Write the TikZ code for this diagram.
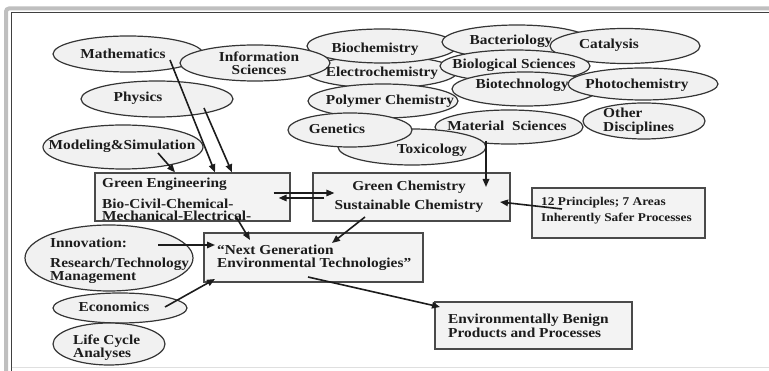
\documentclass[tikz,border=0pt]{standalone}
\usepackage{fontspec}
\newfontfamily\diafont{Liberation Serif}[FakeStretch=1.12]
\usetikzlibrary{shapes.geometric,arrows.meta}
\definecolor{ringc}{HTML}{353535}
\definecolor{discfill}{HTML}{F1F1F1}
\definecolor{boxc}{HTML}{4A4A4A}
\definecolor{boxfill}{HTML}{F3F3F3}
\definecolor{inkc}{HTML}{1C1C1C}
\begin{document}
\begin{tikzpicture}[x=1pt,y=-1pt,
  disc/.style={ellipse, draw=ringc, fill=discfill, line width=1.2pt, inner sep=0pt},
  panel/.style={rectangle, draw=boxc, fill=boxfill, line width=1.3pt, inner sep=0pt},
  lbl/.style={font=\diafont\bfseries\fontsize{13.7}{12.5}\selectfont, text=inkc, inner sep=0pt},
  small/.style={font=\diafont\bfseries\fontsize{11.9}{13}\selectfont, text=inkc, inner sep=0pt},
  link/.style={draw=inkc, line width=1.6pt, -{Triangle[length=8pt,width=6.5pt]}}]
\useasboundingbox (0,0) rectangle (769,371);

% page frame
\draw[gray!50, line width=4pt, rounded corners=3pt] (6,371) -- (6,8.5) -- (769,8.5);
\draw[black!75, line width=0.9pt] (11.5,371) -- (11.5,12) -- (769,12);
\draw[gray!25, line width=0.8pt] (11.5,367) -- (769,367);

% discipline ellipses (back to front)
\node[disc, minimum width=150pt, minimum height=36pt] (math) at (128,54) {};
\node[disc, minimum width=152pt, minimum height=36pt] (phys) at (157,99) {};
\node[disc, minimum width=160pt, minimum height=44pt] (model) at (123,147) {};
\node[disc, minimum width=150pt, minimum height=32pt] (electro) at (382,72) {};
\node[disc, minimum width=150pt, minimum height=34pt] (biochem) at (382,46) {};
\node[disc, minimum width=150pt, minimum height=36pt] (info) at (255,63) {};
\node[disc, minimum width=150pt, minimum height=34pt] (polymer) at (383,101) {};
\node[disc, minimum width=150pt, minimum height=34pt] (bact) at (517,42) {};
\node[disc, minimum width=150pt, minimum height=35pt] (catal) at (625,46) {};
\node[disc, minimum width=150pt, minimum height=32pt] (biosci) at (515,66) {};
\node[disc, minimum width=146pt, minimum height=34pt] (biotech) at (525,89) {};
\node[disc, minimum width=150pt, minimum height=32pt] (photo) at (643,84) {};
\node[disc, minimum width=148pt, minimum height=34pt] (material) at (509,127) {};
\node[disc, minimum width=122pt, minimum height=36pt] (other) at (644,121) {};
\node[disc, minimum width=148pt, minimum height=36pt] (toxic) at (412,147) {};
\node[disc, minimum width=124pt, minimum height=34pt] (genet) at (350,130) {};
\node[disc, minimum width=168pt, minimum height=66pt] (innov) at (109,258) {};
\node[disc, minimum width=134pt, minimum height=30pt] (econ) at (120,308) {};
\node[disc, minimum width=112pt, minimum height=42pt] (life) at (109,344) {};

% ellipse labels
\node[lbl] (tmath) at (123,54) {Mathematics};
\node[lbl, anchor=north, align=center] (tinfo) at (259,52) {Information\\Sciences};
\node[lbl] (tphys) at (138,98) {Physics};
\node[lbl] (tmodel) at (122,146) {Modeling\&Simulation};
\node[lbl] (tbiochem) at (375,49) {Biochemistry};
\node[lbl] (telectro) at (382,73) {Electrochemistry};
\node[lbl] (tpolymer) at (390,101) {Polymer Chemistry};
\node[lbl] (tgenet) at (337,129) {Genetics};
\node[lbl] (ttoxic) at (432,150) {Toxicology};
\node[lbl] (tbact) at (511,41) {Bacteriology};
\node[lbl] (tbiosci) at (514,65) {Biological Sciences};
\node[lbl] (tbiotech) at (522,85) {Biotechnology};
\node[lbl] (tmaterial) at (507,126) {Material\ \ Sciences};
\node[lbl] (tcatal) at (609,45) {Catalysis};
\node[lbl] (tphoto) at (637,85) {Photochemistry};
\node[lbl, anchor=north west, align=left] (tother) at (603,108) {Other\\[1.5pt]Disciplines};
\node[lbl, anchor=north west, align=left] (tinnov) at (50,238) {Innovation:\\[7.5pt]Research/Technology\\Management};
\node[lbl] (tecon) at (114,307) {Economics};
\node[lbl, anchor=north west, align=left] (tlife) at (73,335) {Life Cycle\\Analyses};

% boxes
\node[panel, minimum width=195pt, minimum height=48pt] (geng) at (192.5,197) {};
\node[panel, minimum width=197pt, minimum height=48pt] (gchem) at (411.5,197) {};
\node[panel, minimum width=173pt, minimum height=50pt] (princ) at (618.5,213) {};
\node[panel, minimum width=219pt, minimum height=49pt] (nextg) at (313.5,257.5) {};
\node[panel, minimum width=197pt, minimum height=47pt] (envb) at (533.5,325.5) {};

\node[lbl, anchor=north west, align=left] (tgeng) at (102,177.5) {Green Engineering\\[7.5pt]Bio-Civil-Chemical-\\Mechanical-Electrical-};
\node[lbl, anchor=north, align=center] (tgchem) at (409,181) {Green Chemistry\\[6.5pt]Sustainable Chemistry};
\node[small, anchor=north west, align=left] (tprinc) at (541,197.5) {12 Principles; 7 Areas\\[3pt]Inherently Safer Processes};
\node[lbl, anchor=north west, align=left] (tnextg) at (217,245) {“Next Generation\\Environmental Technologies”};
\node[lbl, anchor=north west, align=left] (tenvb) at (448,314) {Environmentally Benign\\Products and Processes};

% connectors
\draw[link] ([xshift=42pt,yshift=-6pt]math.center) -- ([xshift=22.5pt]geng.north);
\draw[link] ([xshift=47pt,yshift=-9pt]phys.center) -- ([xshift=39.5pt]geng.north);
\draw[link] ([xshift=35pt,yshift=-6pt]model.center) -- ([xshift=-17.5pt]geng.north);
\draw[link] ([xshift=-17pt,yshift=4pt]geng.east) -- ([xshift=22pt,yshift=4pt]gchem.west);
\draw[link] ([xshift=12pt,yshift=-1pt]gchem.west) -- ([xshift=-12pt,yshift=-1pt]geng.east);
\draw[link] ([xshift=-23pt,yshift=-14pt]material.center) -- ([xshift=74.5pt,yshift=10pt]gchem.center);
\draw[link] ([xshift=-56.5pt,yshift=4pt]princ.center) -- ([xshift=88.5pt,yshift=-5pt]gchem.center);
\draw[link] ([xshift=-46.5pt,yshift=-20pt]gchem.center) -- ([xshift=18.5pt,yshift=14.5pt]nextg.center);
\draw[link] ([xshift=42.5pt,yshift=-18pt]geng.center) -- ([xshift=-63.5pt,yshift=17.5pt]nextg.center);
\draw[link] ([xshift=49pt,yshift=13pt]innov.center) -- ([xshift=-98.5pt,yshift=12.5pt]nextg.center);
\draw[link] ([xshift=45pt,yshift=1pt]econ.center) -- ([xshift=-98.5pt,yshift=-21.5pt]nextg.center);
\draw[link] ([xshift=-5.5pt,yshift=-19.5pt]nextg.center) -- ([xshift=-93.5pt,yshift=18.5pt]envb.center);
\end{tikzpicture}
\end{document}
